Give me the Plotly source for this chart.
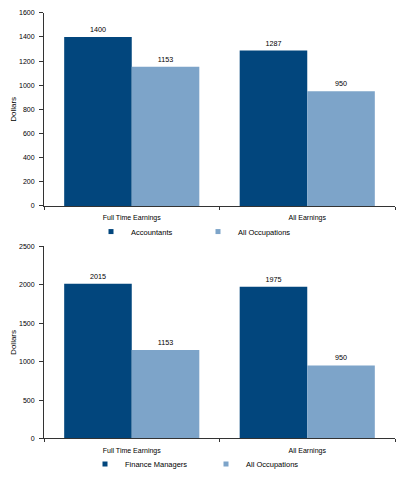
import plotly.graph_objects as go
from plotly.subplots import make_subplots

categories = ["Full Time Earnings", "All Earnings"]
accountants = [1400, 1287]
all_occupations = [1153, 950]
finance_managers = [2015, 1975]

top_ticks = [0, 200, 400, 600, 800, 1000, 1200, 1400, 1600]
bottom_ticks = [0, 500, 1000, 1500, 2000, 2500]

DARK = "#02467D"
LIGHT = "#7DA4C9"
FONT = "Liberation Sans"

fig = make_subplots(rows=2, cols=1)


def add_pair(first, first_name, row, legend):
    fig.add_trace(go.Bar(x=categories, y=first, name=first_name, marker_color=DARK,
                         text=first, textposition="outside", showlegend=False), row=row, col=1)
    fig.add_trace(go.Bar(x=categories, y=all_occupations, name="All Occupations",
                         marker_color=LIGHT, text=all_occupations, textposition="outside",
                         showlegend=False), row=row, col=1)
    # legend entries with small square keys
    for name, color in ((first_name, DARK), ("All Occupations", LIGHT)):
        fig.add_trace(go.Scatter(x=[None], y=[None], mode="markers", name=name,
                                 marker=dict(symbol="square", size=5, color=color),
                                 legend=legend, hoverinfo="skip"), row=row, col=1)


add_pair(accountants, "Accountants", 1, "legend")
add_pair(finance_managers, "Finance Managers", 2, "legend2")

fig.update_traces(selector=dict(type="bar"),
                  textfont=dict(size=7.2, color="#000000", family=FONT), cliponaxis=False,
                  marker_line_width=0)

xdom = [44 / 400, 395 / 400]
axis_common = dict(showline=True, linecolor="#333333", linewidth=1, ticks="outside",
                   tickcolor="#333333", showgrid=False, zeroline=False, automargin=False,
                   tickfont=dict(size=7, color="#000000", family=FONT))

fig.update_xaxes(**axis_common, ticklen=3, tickson="boundaries", domain=xdom,
                 ticklabelstandoff=5)
fig.update_yaxes(**axis_common, ticklen=4, ticklabelstandoff=3)

title_font = dict(size=8, family=FONT, color="#000000")
fig.update_yaxes(row=1, col=1, range=[0, 1600], tickvals=top_ticks,
                 domain=[1 - 209 / 479, 1 - 13 / 479],
                 title=dict(text="Dollars", font=title_font, standoff=1))
fig.update_yaxes(row=2, col=1, range=[0, 2500], tickvals=bottom_ticks,
                 domain=[1 - 445 / 479, 1 - 250 / 479],
                 title=dict(text="Dollars", font=title_font, standoff=1))

legend_common = dict(orientation="h", xanchor="left", yanchor="middle",
                     font=dict(size=7.5, family=FONT, color="#000000"),
                     bgcolor="rgba(0,0,0,0)", borderwidth=0, itemwidth=30,
                     itemsizing="trace", entrywidthmode="pixels", traceorder="normal")

fig.update_layout(
    width=400, height=479, autosize=False,
    margin=dict(l=0, r=0, t=0, b=0),
    paper_bgcolor="white", plot_bgcolor="white",
    barmode="group", bargap=0.23, bargroupgap=0,
    font=dict(family=FONT, size=7, color="#000000"),
    legend=dict(**legend_common, x=(133 - 42) / 400, y=1 - 235 / 479, entrywidth=62),
    legend2=dict(**legend_common, x=(127 - 42) / 400, y=1 - 471 / 479, entrywidth=76),
)

fig.write_html("out.html", config={"displayModeBar": False},
               post_script="document.body.style.margin='0';document.body.style.overflow='hidden';")
